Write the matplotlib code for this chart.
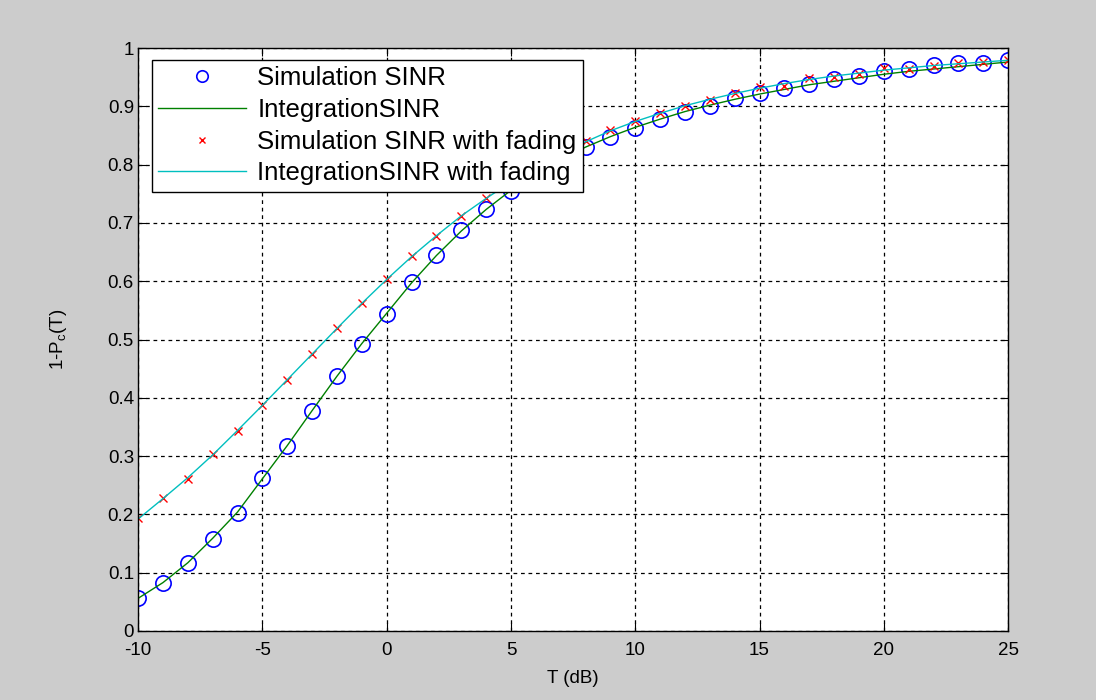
import matplotlib
matplotlib.use("Agg")
import matplotlib.pyplot as plt

plt.rcParams["font.family"] = ["Liberation Sans", "DejaVu Sans"]
plt.rcParams["axes.unicode_minus"] = False

# T in dB, one sample per integer
T_db = list(range(-10, 26))

sim_sinr = [0.056, 0.082, 0.117, 0.158, 0.203, 0.262, 0.317, 0.378, 0.437, 0.493,
            0.544, 0.598, 0.645, 0.687, 0.723, 0.755, 0.785, 0.810, 0.831, 0.847,
            0.862, 0.878, 0.890, 0.901, 0.915, 0.923, 0.931, 0.939, 0.946, 0.952,
            0.961, 0.964, 0.971, 0.974, 0.975, 0.979]
int_sinr = [0.056, 0.083, 0.117, 0.159, 0.204, 0.261, 0.318, 0.378, 0.437, 0.493,
            0.545, 0.597, 0.644, 0.686, 0.723, 0.756, 0.784, 0.809, 0.830, 0.848,
            0.864, 0.878, 0.891, 0.902, 0.912, 0.921, 0.929, 0.937, 0.943, 0.949,
            0.955, 0.960, 0.964, 0.968, 0.972, 0.976]
sim_fading = [0.193, 0.228, 0.261, 0.303, 0.343, 0.387, 0.431, 0.475, 0.520, 0.563,
              0.603, 0.643, 0.678, 0.712, 0.742, 0.770, 0.800, 0.823, 0.840, 0.859,
              0.874, 0.888, 0.901, 0.911, 0.922, 0.933, 0.935, 0.948, 0.951, 0.955,
              0.965, 0.964, 0.970, 0.974, 0.976, 0.979]
int_fading = [0.192, 0.227, 0.263, 0.302, 0.344, 0.387, 0.431, 0.475, 0.519, 0.562,
              0.603, 0.642, 0.678, 0.712, 0.742, 0.770, 0.796, 0.819, 0.839, 0.858,
              0.874, 0.888, 0.901, 0.912, 0.922, 0.931, 0.939, 0.946, 0.952, 0.957,
              0.962, 0.966, 0.970, 0.973, 0.976, 0.979]

fig = plt.figure(figsize=(10.96, 7.0), dpi=100, facecolor="#cccccc")
ax = fig.add_axes([0.126, 0.0986, 0.7938, 0.8328])

ax.plot(T_db, sim_sinr, "o", mfc="none", mec="blue", mew=1.2, ms=11, label="Simulation SINR")
ax.plot(T_db, int_sinr, "-", color="#008000", lw=1.0, label="IntegrationSINR")
ax.plot(T_db, sim_fading, "x", color="red", mew=1.0, ms=6, label="Simulation SINR with fading")
ax.plot(T_db, int_fading, "-", color="#00bfbf", lw=1.0, label="IntegrationSINR with fading")

ax.set_xlim(-10, 25)
ax.set_ylim(0, 1)
ax.set_xticks(range(-10, 26, 5))
ax.set_yticks([i / 10 for i in range(11)])
ax.set_yticklabels(["0", "0.1", "0.2", "0.3", "0.4", "0.5", "0.6", "0.7", "0.8", "0.9", "1"])
ax.tick_params(direction="in", top=True, right=True, labelsize=13.5, length=6, pad=3)
ax.tick_params(axis="x", pad=8)
ax.grid(True, color="black", linestyle=(0, (3, 3)), lw=0.9)
for s in ax.spines.values():
    s.set_linewidth(1.0)

ax.set_xlabel("T (dB)", fontsize=13.5, labelpad=8)
ax.set_ylabel("1-P$_\\mathregular{c}$(T)", fontsize=13.5, labelpad=28)

leg = ax.legend(loc="upper left", bbox_to_anchor=(0.016, 0.98), fontsize=18.5,
                handlelength=3.4, handletextpad=0.45, fancybox=False, framealpha=1,
                edgecolor="black", borderpad=0.25, labelspacing=0.3, borderaxespad=0,
                markerscale=0.75)
leg.get_frame().set_linewidth(1.0)

fig.savefig("out.png", dpi=100, facecolor=fig.get_facecolor())
